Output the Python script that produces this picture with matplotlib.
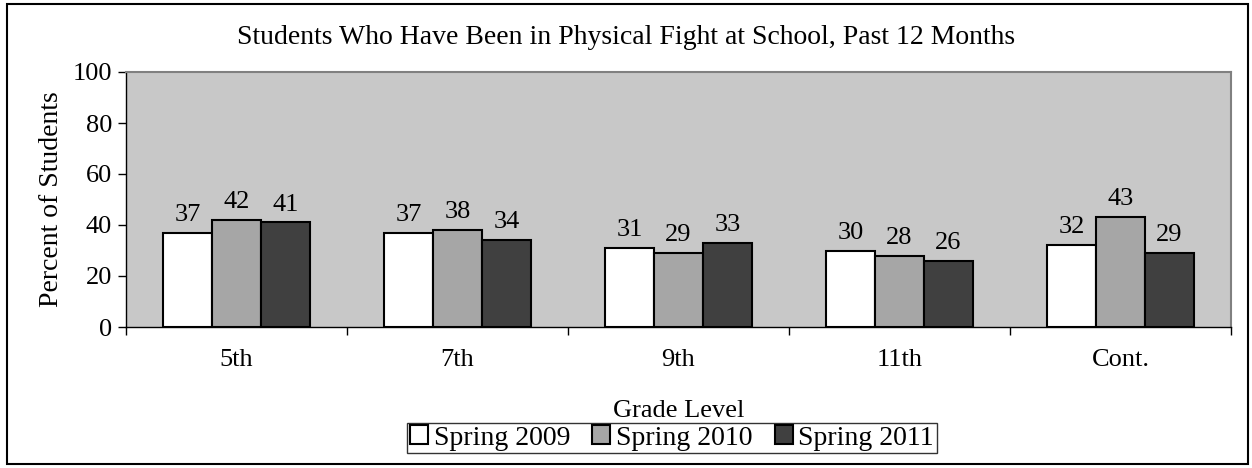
import numpy as np
import matplotlib
matplotlib.use("Agg")
import matplotlib.pyplot as plt
from matplotlib.patches import Rectangle

grades = ["5th", "7th", "9th", "11th", "Cont."]
series = ["Spring 2009", "Spring 2010", "Spring 2011"]
s2009 = [37, 37, 31, 30, 32]
s2010 = [42, 38, 29, 28, 43]
s2011 = [41, 34, 33, 26, 29]
colors = ["#FFFFFF", "#A6A6A6", "#404040"]

plt.rcParams['font.family'] = ['Liberation Serif', 'DejaVu Serif']

fig = plt.figure(figsize=(12.52, 4.68), dpi=100)
ax = fig.add_axes([126/1252, 1 - 327/468, 1105/1252, 255/468])
ax.set_facecolor("#C8C8C8")

x = np.arange(len(grades))
w = 0.222
for i, (vals, c, name) in enumerate(zip([s2009, s2010, s2011], colors, series)):
    bars = ax.bar(x + (i - 1) * w, vals, w, color=c, edgecolor="black",
                  linewidth=1.5, label=name)
    for b, v in zip(bars, vals):
        ax.annotate(str(v), (b.get_x() + b.get_width() / 2, v),
                    xytext=(0, 5), textcoords="offset points",
                    ha="center", va="bottom", fontsize=19)

ax.set_xlim(-0.5, len(grades) - 0.5)
ax.set_ylim(0, 100)
ax.set_yticks(range(0, 101, 20))
ax.set_xticks(x)
ax.set_xticklabels(grades)
ax.set_xticks(np.arange(-0.5, len(grades)), minor=True)
ax.tick_params(axis="x", which="major", length=0, pad=16, labelsize=19)
ax.tick_params(axis="x", which="minor", length=6, width=1)
ax.tick_params(axis="y", length=6, width=1, labelsize=19, pad=4)

for side in ["top", "right"]:
    ax.spines[side].set_color("#808080")
    ax.spines[side].set_linewidth(1.5)
for side in ["left", "bottom"]:
    ax.spines[side].set_color("black")
    ax.spines[side].set_linewidth(1)

ax.set_ylabel("Percent of Students", fontsize=20, labelpad=6)
ax.set_xlabel("Grade Level", fontsize=19, labelpad=21)

fig.text(0.5, 1 - 37/468, "Students Who Have Been in Physical Fight at School, Past 12 Months",
         ha="center", va="center", fontsize=20)

leg = fig.legend(loc="center", bbox_to_anchor=(672/1252, 1 - 438/468), ncol=3,
                 fontsize=20, frameon=True, fancybox=False, edgecolor="black",
                 handlelength=0.65, handleheight=0.65, handletextpad=0.2,
                 columnspacing=0.8, borderpad=0.1)
leg.get_frame().set_linewidth(1)

fig.patches.append(Rectangle((7/1252, 1 - 464/468), 1241/1252, 460/468,
                             transform=fig.transFigure, fill=False,
                             edgecolor="black", linewidth=1.5))

fig.savefig("out.png", dpi=100)
